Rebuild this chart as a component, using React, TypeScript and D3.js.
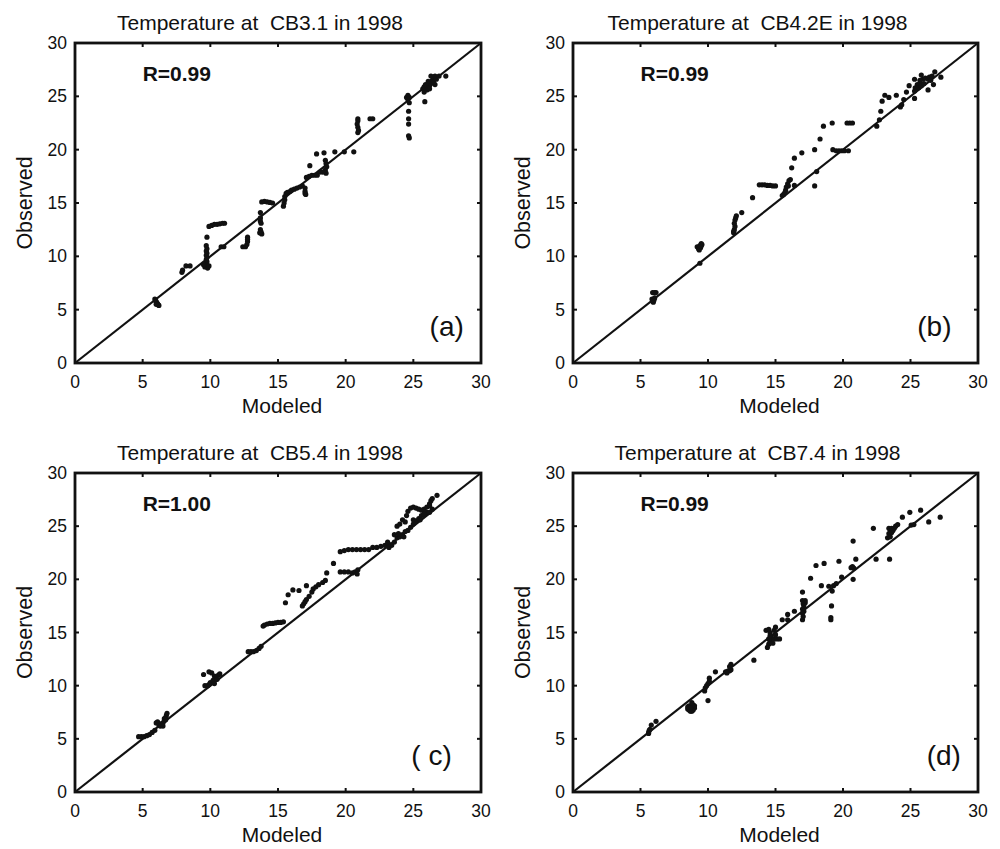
import React from 'react';
import * as d3 from 'd3';

const tickValues = [0, 5, 10, 15, 20, 25, 30];
const titles = [
  'Temperature at  CB3.1 in 1998',
  'Temperature at  CB4.2E in 1998',
  'Temperature at  CB5.4 in 1998',
  'Temperature at  CB7.4 in 1998',
];
const rLabels = ['R=0.99', 'R=0.99', 'R=1.00', 'R=0.99'];
const panelTags = ['(a)', '(b)', '( c)', '(d)'];
const xLabel = 'Modeled';
const yLabel = 'Observed';

// [modeled, observed]
const cb31: [number, number][] = [
  [5.9, 6.0], [5.95, 5.85], [6.0, 5.75], [6.05, 5.65], [6.1, 5.55], [6.15, 5.45], [6.2, 5.4], [6.0, 5.5],
  [7.9, 8.5], [7.95, 8.7], [8.2, 9.1], [8.5, 9.1],
  [9.6, 9.0], [9.65, 9.1], [9.7, 9.3], [9.75, 9.5], [9.7, 9.7], [9.75, 9.9], [9.7, 10.1], [9.75, 10.3], [9.7, 10.5], [9.75, 10.7], [9.7, 11.0], [9.75, 11.8], [9.8, 8.9], [9.9, 9.1], [9.5, 9.2],
  [9.9, 12.8], [10.1, 12.9], [10.3, 13.0], [10.5, 13.0], [10.7, 13.05], [10.9, 13.1], [11.05, 13.1],
  [10.8, 10.9], [11.0, 10.9],
  [12.4, 10.9], [12.6, 10.9], [12.7, 11.1], [12.75, 11.4], [12.75, 11.6], [12.75, 11.8],
  [13.7, 14.1], [13.7, 13.6], [13.7, 13.3], [13.75, 13.1], [13.7, 12.5], [13.75, 12.3], [13.8, 12.1], [13.65, 12.2],
  [13.8, 15.1], [14.0, 15.15], [14.2, 15.1], [14.4, 15.05], [14.6, 15.0],
  [15.4, 14.7], [15.45, 15.0], [15.5, 15.3], [15.5, 15.6], [15.6, 15.9], [15.7, 16.0], [15.9, 16.1], [16.0, 16.2], [16.2, 16.3], [16.4, 16.4], [16.6, 16.5], [16.8, 16.6], [17.0, 16.4], [17.0, 16.1], [17.0, 15.9], [17.05, 15.8],
  [17.1, 17.4], [17.3, 17.5], [17.5, 17.6], [17.7, 17.6], [17.9, 17.6], [17.35, 18.5],
  [17.85, 19.6], [18.4, 19.7], [19.2, 19.8], [19.9, 19.8], [20.6, 19.8],
  [18.5, 19.0], [18.55, 18.7], [18.6, 18.4], [18.5, 18.1], [18.55, 17.8], [18.3, 17.9], [18.1, 17.9],
  [20.9, 22.9], [20.9, 22.7], [20.85, 22.4], [20.9, 22.1], [20.95, 21.8], [20.9, 21.6], [21.8, 22.9], [22.0, 22.9],
  [24.5, 24.9], [24.6, 25.1], [24.7, 24.9], [24.6, 24.7], [24.7, 24.4], [24.65, 23.6], [24.65, 22.9], [24.65, 22.4], [24.65, 21.3], [24.7, 21.1],
  [25.7, 25.7], [25.8, 25.9], [25.8, 25.4], [25.85, 24.5], [26.0, 25.6], [26.1, 25.8], [26.2, 26.0], [26.3, 26.2], [26.2, 25.7], [26.4, 26.5], [26.5, 26.8], [26.6, 26.9], [26.3, 26.9], [26.6, 26.1], [26.5, 26.3], [26.7, 26.6], [26.9, 26.9], [27.4, 26.9], [25.9, 26.1], [26.1, 26.4],
];

const cb42e: [number, number][] = [
  [5.9, 6.6], [6.05, 6.6], [6.15, 6.6], [5.85, 6.0], [5.9, 5.8], [5.95, 5.7], [6.0, 5.9], [6.05, 6.1],
  [9.4, 9.35],
  [9.2, 10.9], [9.3, 10.7], [9.35, 10.6], [9.45, 10.8], [9.5, 11.0], [9.55, 11.1], [9.5, 11.2], [9.4, 11.0],
  [11.9, 12.2], [11.95, 12.5], [12.0, 12.8], [11.95, 13.1], [12.0, 13.4], [12.05, 13.6], [12.1, 13.8], [11.9, 12.35], [12.5, 14.1],
  [13.3, 15.5],
  [13.8, 16.7], [14.0, 16.7], [14.2, 16.7], [14.4, 16.65], [14.6, 16.65], [14.8, 16.6], [15.0, 16.6],
  [15.5, 15.7], [15.6, 15.8], [15.7, 16.0], [15.75, 16.2], [15.8, 16.5], [15.9, 16.8], [16.0, 17.1], [16.1, 17.2], [15.95, 16.6],
  [16.2, 18.3], [16.4, 16.65], [16.4, 19.2], [16.95, 19.7],
  [17.9, 20.0], [17.9, 16.6], [18.05, 17.95], [18.3, 21.0], [18.55, 22.2], [19.2, 22.5],
  [19.25, 20.0], [19.5, 19.9], [19.7, 19.9], [19.9, 19.9], [20.1, 19.9], [20.4, 19.9],
  [20.3, 22.5], [20.5, 22.5], [20.7, 22.5],
  [22.5, 22.2], [22.7, 22.8], [22.8, 23.6], [22.9, 24.55], [23.1, 25.1], [23.4, 24.9], [23.95, 25.1],
  [24.25, 24.0], [24.35, 24.2], [24.5, 24.7], [24.7, 25.4], [24.9, 26.0], [25.3, 24.8], [25.3, 25.5], [25.35, 25.8], [25.3, 26.6], [25.7, 26.2], [25.9, 26.6], [25.8, 27.0], [26.1, 26.7], [26.3, 26.6], [26.4, 26.8], [26.5, 26.5], [26.6, 26.9], [26.3, 25.6], [26.7, 26.1], [26.8, 27.3], [27.25, 26.8], [25.5, 26.1], [25.6, 25.8], [25.8, 26.0], [26.0, 26.2], [25.7, 26.5],
];

const cb54: [number, number][] = [
  [4.7, 5.2], [4.9, 5.2], [5.1, 5.2], [5.3, 5.3], [5.5, 5.4], [5.7, 5.6], [5.9, 5.8],
  [6.0, 6.5], [6.1, 6.6], [6.2, 6.3], [6.3, 6.2], [6.35, 6.4], [6.5, 6.5], [6.6, 6.7], [6.7, 7.0], [6.75, 7.2], [6.8, 7.4], [6.5, 6.2], [6.6, 6.9], [6.7, 6.8],
  [9.6, 10.0], [9.8, 10.0], [9.9, 10.1], [10.0, 10.3], [9.5, 11.05], [9.9, 11.3], [10.1, 11.2], [10.3, 10.9], [10.4, 10.7], [10.2, 10.5], [10.5, 10.6], [10.6, 11.0], [10.7, 11.1], [10.3, 10.2],
  [12.8, 13.2], [13.0, 13.2], [13.2, 13.2], [13.4, 13.3], [13.6, 13.5], [13.75, 13.7],
  [13.9, 15.6], [14.0, 15.7], [14.2, 15.8], [14.4, 15.85], [14.6, 15.85], [14.8, 15.9], [15.0, 15.95], [15.2, 15.95], [15.4, 16.0],
  [15.55, 17.8], [15.75, 18.55], [16.1, 19.0], [16.55, 18.95], [17.1, 19.4],
  [16.8, 17.5], [16.9, 17.7], [17.0, 17.9], [17.1, 18.1], [17.3, 18.4], [17.5, 18.8], [17.6, 19.1], [17.8, 19.3], [18.0, 19.5], [18.3, 19.7], [18.5, 19.9],
  [18.6, 20.6], [19.1, 21.5],
  [19.6, 22.6], [19.9, 22.7], [20.2, 22.8], [20.5, 22.8], [20.8, 22.8], [21.1, 22.8], [21.4, 22.8], [21.7, 22.8],
  [19.6, 20.7], [19.9, 20.7], [20.2, 20.7], [20.5, 20.6], [20.7, 20.7], [20.9, 20.9], [20.85, 20.5],
  [22.0, 23.0], [22.3, 23.0], [22.6, 23.1], [22.9, 23.2], [23.2, 23.3], [23.1, 23.5],
  [23.2, 23.0], [23.4, 23.2], [23.6, 23.5], [23.8, 23.9], [24.0, 24.0], [24.2, 24.2], [24.4, 24.5], [24.6, 24.6], [24.8, 24.9], [25.0, 25.2], [25.2, 25.5], [25.4, 25.7], [25.6, 26.0], [25.8, 26.2], [26.0, 26.3],
  [23.6, 24.2], [23.8, 25.0], [24.0, 25.2], [24.2, 25.6], [24.4, 25.4], [24.5, 26.0], [24.6, 26.4], [24.8, 26.7], [25.0, 26.8], [25.2, 26.7], [25.4, 26.6], [25.6, 26.5], [25.8, 26.6], [26.0, 26.8], [26.2, 27.1], [26.3, 27.4], [26.4, 27.6], [26.75, 27.9],
  [24.3, 24.0], [23.9, 24.3], [25.0, 25.6], [25.5, 25.6], [25.8, 26.1], [26.2, 26.3], [26.4, 26.6], [26.2, 26.9],
];

const cb74: [number, number][] = [
  [5.6, 5.6], [5.65, 5.8], [5.7, 5.9], [5.8, 6.3], [6.15, 6.65], [5.6, 5.5],
  [8.5, 7.8], [8.6, 7.7], [8.7, 7.6], [8.8, 7.6], [8.9, 7.7], [9.0, 7.9], [9.0, 8.1], [8.9, 8.2], [8.6, 8.1], [8.5, 8.0], [8.8, 8.4], [8.7, 7.9],
  [10.0, 8.6], [9.75, 9.5], [9.8, 9.8], [9.9, 10.0], [10.0, 10.2], [10.1, 10.4], [10.1, 10.7], [10.55, 11.3],
  [11.3, 11.3], [11.4, 11.3], [11.5, 11.4], [11.6, 11.4], [11.7, 11.5], [11.6, 11.8], [11.7, 12.0], [11.4, 11.2],
  [13.4, 12.4],
  [14.3, 15.2], [14.5, 15.3], [14.6, 15.0], [14.6, 14.7], [14.5, 14.4], [14.6, 14.2], [14.5, 13.9], [14.4, 13.6], [14.7, 14.5], [14.9, 14.4], [15.1, 14.4], [15.3, 14.4], [15.0, 15.5], [14.9, 15.2], [15.0, 14.8], [14.8, 14.0],
  [15.5, 16.2], [15.9, 16.7], [15.9, 16.2], [16.4, 17.0],
  [17.0, 18.8], [17.0, 18.0], [17.05, 17.7], [17.1, 17.5], [17.0, 17.2], [17.1, 17.0], [17.0, 16.8], [17.05, 16.5], [17.0, 16.2], [17.2, 17.8], [17.2, 18.0],
  [17.6, 20.1], [18.0, 21.3], [18.6, 21.5], [18.4, 19.4], [18.95, 19.35], [19.2, 18.9], [19.3, 19.4], [19.5, 19.6], [19.7, 21.7], [19.15, 17.5], [19.1, 16.4], [19.1, 16.2], [19.9, 20.2],
  [20.6, 21.1], [20.7, 21.2], [20.8, 21.05], [20.75, 20.0], [20.95, 21.9], [20.75, 23.6],
  [22.25, 24.8], [22.45, 21.9], [23.45, 21.9],
  [23.3, 23.9], [23.4, 24.3], [23.5, 24.6], [23.4, 24.8], [23.6, 24.8], [23.7, 24.6], [23.8, 24.8], [23.9, 25.0], [24.05, 25.15], [23.5, 24.0], [23.6, 24.4],
  [24.4, 25.85], [24.95, 26.3], [25.05, 25.1], [25.25, 25.15], [25.75, 26.5], [26.35, 25.4], [27.2, 25.85],
];

const panelData = [cb31, cb42e, cb54, cb74];

const FONT = '"Liberation Sans", Arial, Helvetica, sans-serif';

export default function App() {
  const lefts = [75, 573];
  const rights = [481, 978];
  const tops = [43, 473];
  const bottoms = [363, 792];
  const tagX = [26.2, 25.5, 24.85, 26.2];

  return (
    <svg width={1000} height={849} style={{ position: 'absolute', left: 0, top: 0, background: '#fff' }}>
      <rect x={0} y={0} width={1000} height={849} fill="#fff" />
      {panelData.map((pts, i) => {
        const col = i % 2;
        const row = Math.floor(i / 2);
        const x = d3.scaleLinear().domain([0, 30]).range([lefts[col], rights[col]]);
        const y = d3.scaleLinear().domain([0, 30]).range([bottoms[row], tops[row]]);
        const line = d3.line<[number, number]>().x(d => x(d[0])).y(d => y(d[1]));
        const x0 = x(0), x1 = x(30), y0 = y(0), y1 = y(30);
        const cx = (x0 + x1) / 2;
        const cy = (y0 + y1) / 2;
        return (
          <g key={i} fontFamily={FONT}>
            <text x={cx - 18} y={y1 - 13} fontSize={21} textAnchor="middle" style={{ whiteSpace: 'pre' }} fill="#111">
              {titles[i]}
            </text>
            <path d={line([[0, 0], [30, 30]]) || ''} stroke="#111" strokeWidth={2.2} fill="none" />
            {pts.map((p, j) => (
              <circle key={j} cx={x(p[0])} cy={y(p[1])} r={2.6} fill="#111" />
            ))}
            {tickValues.map(t => (
              <g key={'t' + t}>
                <line x1={x(t)} x2={x(t)} y1={y0} y2={y0 - 4} stroke="#111" strokeWidth={2} />
                <line x1={x(t)} x2={x(t)} y1={y1} y2={y1 + 4} stroke="#111" strokeWidth={2} />
                <line x1={x0} x2={x0 + 4} y1={y(t)} y2={y(t)} stroke="#111" strokeWidth={2} />
                <line x1={x1} x2={x1 - 4} y1={y(t)} y2={y(t)} stroke="#111" strokeWidth={2} />
                <text x={x(t)} y={y0 + 25} fontSize={17.5} textAnchor="middle" fill="#111">{t}</text>
                <text x={x0 - 8} y={y(t) + 6} fontSize={17.5} textAnchor="end" fill="#111">{t}</text>
              </g>
            ))}
            <rect x={x0} y={y1} width={x1 - x0} height={y0 - y1} fill="none" stroke="#111" strokeWidth={2.8} />
            <text x={x(5)} y={y1 + 38} fontSize={21} fontWeight="bold" fill="#111">{rLabels[i]}</text>
            <text x={x(tagX[i])} y={y(2.5)} fontSize={28} fill="#111" style={{ whiteSpace: 'pre' }}>{panelTags[i]}</text>
            <text x={cx + 4} y={y0 + 50} fontSize={21} textAnchor="middle" fill="#111">{xLabel}</text>
            <text transform={`translate(${x0 - 43},${cy}) rotate(-90)`} fontSize={21.5} textAnchor="middle" fill="#111">{yLabel}</text>
          </g>
        );
      })}
    </svg>
  );
}
